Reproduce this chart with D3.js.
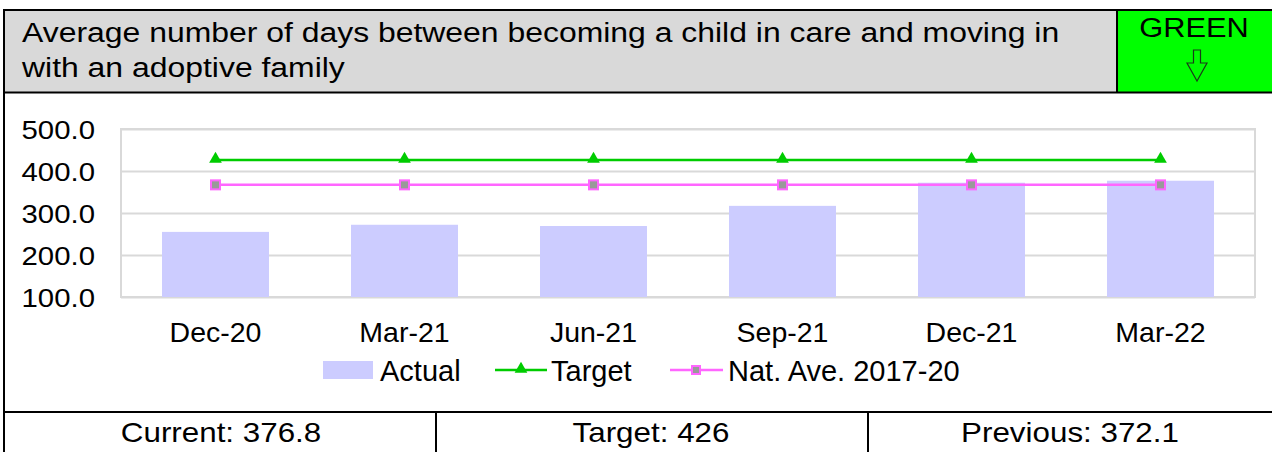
<!DOCTYPE html>
<html>
<head>
<meta charset="utf-8">
<script src="https://cdn.jsdelivr.net/npm/d3@7"></script>
<style>
  body { margin: 0; background: #fff; }
  text { font-family: "Liberation Sans", Arial, sans-serif; fill: #000; }
</style>
</head>
<body>
<div class="svg-container"></div>
<script>
// Data
var categories = ["Dec-20", "Mar-21", "Jun-21", "Sep-21", "Dec-21", "Mar-22"];
var actual = [255, 272, 269, 317, 372.1, 376.8];
var target = [426, 426, 426, 426, 426, 426];
var natAve = [367, 367, 367, 367, 367, 367];
var yTicks = [100, 200, 300, 400, 500];
var titleLines = ["Average number of days between becoming a child in care and moving in",
                  "with an adoptive family"];
var ragStatus = "GREEN";

var W = 1272, H = 452;
var plot = {left: 121, right: 1255, top: 129, bottom: 297};

var svg = d3.select(".svg-container").append("svg")
    .attr("width", W)
    .attr("height", H);

// Header
svg.append("rect")
    .attr("x", 4).attr("y", 9).attr("width", W).attr("height", 83)
    .attr("fill", "#d9d9d9");
svg.append("rect")
    .attr("x", 1117).attr("y", 9).attr("width", W - 1117).attr("height", 83)
    .attr("fill", "#00ff00");

svg.append("text")
    .attr("transform", "translate(22,42) scale(1.14,1)")
    .style("font-size", "28px")
    .selectAll("tspan")
    .data(titleLines)
    .enter()
    .append("tspan")
        .attr("x", 0)
        .attr("dy", function(d, i) { return i == 0 ? 0 : 35; })
        .text(function(d) { return d; });

svg.append("text")
    .attr("transform", "translate(1194,37) scale(1.1,1)")
    .attr("text-anchor", "middle")
    .style("font-size", "28px")
    .text(ragStatus);

// down arrow (outline)
svg.append("path")
    .attr("d", "M1193.5,50 L1200.5,50 L1200.5,63 L1207,63 L1197,81 L1187,63 L1193.5,63 Z")
    .attr("fill", "none")
    .attr("stroke", "#1a3a1a")
    .attr("stroke-width", 1.2);

// Frame lines
var frame = svg.append("g").attr("stroke", "#000").attr("stroke-width", 2);
frame.append("line").attr("x1", 4).attr("y1", 10).attr("x2", W).attr("y2", 10);
frame.append("line").attr("x1", 4).attr("y1", 9).attr("x2", 4).attr("y2", H);
frame.append("line").attr("x1", 4).attr("y1", 92.5).attr("x2", W).attr("y2", 92.5);
frame.append("line").attr("x1", 1117).attr("y1", 9).attr("x2", 1117).attr("y2", 92);
frame.append("line").attr("x1", 4).attr("y1", 412).attr("x2", W).attr("y2", 412);
frame.append("line").attr("x1", 436).attr("y1", 412).attr("x2", 436).attr("y2", H);
frame.append("line").attr("x1", 868).attr("y1", 412).attr("x2", 868).attr("y2", H);

// Scales
var xScale = d3.scaleBand()
    .domain(categories)
    .range([plot.left, plot.right])
    .paddingInner(0.434)
    .paddingOuter(0.217);
var yScale = d3.scaleLinear()
    .domain([100, 500])
    .range([plot.bottom, plot.top]);

function cx(d) { return xScale(d) + xScale.bandwidth() / 2; }

// Gridlines
var grid = svg.append("g")
    .attr("transform", "translate(" + plot.left + ",0)")
    .call(d3.axisLeft(yScale).tickValues(yTicks).tickSize(-(plot.right - plot.left)).tickFormat(""));
grid.select(".domain").remove();
grid.selectAll(".tick line").attr("stroke", "#d9d9d9").attr("stroke-width", 2);

svg.append("rect")
    .attr("x", plot.left).attr("y", plot.top)
    .attr("width", plot.right - plot.left).attr("height", plot.bottom - plot.top)
    .attr("fill", "none").attr("stroke", "#d9d9d9").attr("stroke-width", 2);

// Y axis labels
var yaxis = svg.append("g")
    .attr("transform", "translate(" + (plot.left - 26) + ",0)")
    .call(d3.axisLeft(yScale).tickValues(yTicks).tickSize(0).tickPadding(0).tickFormat(d3.format(".1f")));
yaxis.select(".domain").remove();
yaxis.selectAll("text")
    .style("font-size", "26px")
    .style("font-family", "'Liberation Sans', Arial, sans-serif")
    .attr("fill", "#000")
    .attr("x", 0)
    .attr("dy", "0.36em")
    .attr("transform", "scale(1.13,1)");

// X axis labels
var xaxis = svg.append("g")
    .attr("transform", "translate(0," + plot.bottom + ")")
    .call(d3.axisBottom(xScale).tickSize(0).tickPadding(0));
xaxis.select(".domain").remove();
xaxis.selectAll("text")
    .style("font-size", "28.5px")
    .style("font-family", "'Liberation Sans', Arial, sans-serif")
    .attr("fill", "#000")
    .attr("y", 45)
    .attr("dy", 0);

// Bars
svg.append("g")
    .selectAll("rect")
    .data(categories)
    .enter()
    .append("rect")
        .attr("x", function(d) { return xScale(d); })
        .attr("y", function(d, i) { return yScale(actual[i]); })
        .attr("width", xScale.bandwidth())
        .attr("height", function(d, i) { return plot.bottom - yScale(actual[i]); })
        .attr("fill", "#ccccff");

// Lines
var line = function(vals) {
    return d3.line()
        .x(function(d) { return cx(d); })
        .y(function(d, i) { return yScale(vals[i]); })(categories);
};

svg.append("path")
    .attr("d", line(target))
    .style("fill", "none")
    .style("stroke", "#00cc00")
    .style("stroke-width", 2.5);

svg.append("path")
    .attr("d", line(natAve))
    .style("fill", "none")
    .style("stroke", "#ff66ff")
    .style("stroke-width", 2.5);

var tri = d3.symbol().type(d3.symbolTriangle).size(70);
svg.append("g")
    .selectAll("path")
    .data(categories)
    .enter()
    .append("path")
        .attr("d", tri)
        .attr("transform", function(d, i) { return "translate(" + cx(d) + "," + (yScale(target[i]) - 1) + ")"; })
        .attr("fill", "#00cc00");

svg.append("g")
    .selectAll("rect")
    .data(categories)
    .enter()
    .append("rect")
        .attr("x", function(d) { return cx(d) - 4.5; })
        .attr("y", function(d, i) { return yScale(natAve[i]) - 4.5; })
        .attr("width", 9).attr("height", 9)
        .attr("fill", "#999999")
        .attr("stroke", "#ff66ff")
        .attr("stroke-width", 2);

// Legend
var lg = svg.append("g");
var lgY = 370;
lg.append("rect").attr("x", 323).attr("y", lgY - 9).attr("width", 50).attr("height", 18).attr("fill", "#ccccff");
lg.append("text").attr("x", 380).attr("y", lgY + 11).style("font-size", "29px").text("Actual");

lg.append("line").attr("x1", 495).attr("x2", 547).attr("y1", lgY).attr("y2", lgY)
    .attr("stroke", "#00cc00").attr("stroke-width", 2.5);
lg.append("path").attr("d", tri).attr("transform", "translate(521," + (lgY - 1) + ")").attr("fill", "#00cc00");
lg.append("text").attr("x", 551).attr("y", lgY + 11).style("font-size", "29px").text("Target");

lg.append("line").attr("x1", 670).attr("x2", 723).attr("y1", lgY).attr("y2", lgY)
    .attr("stroke", "#ff66ff").attr("stroke-width", 2.5);
lg.append("rect").attr("x", 692).attr("y", lgY - 4).attr("width", 8).attr("height", 8)
    .attr("fill", "#999999").attr("stroke", "#ff66ff").attr("stroke-width", 2);
lg.append("text").attr("x", 728).attr("y", lgY + 11).style("font-size", "29px").text("Nat. Ave. 2017-20");

// Footer
var footer = ["Current: " + actual[actual.length - 1],
              "Target: " + target[target.length - 1],
              "Previous: " + actual[actual.length - 2]];
var footerX = [221, 651, 1070];
svg.append("g")
    .selectAll("text")
    .data(footer)
    .enter()
    .append("text")
        .attr("transform", function(d, i) { return "translate(" + footerX[i] + ",442) scale(1.12,1)"; })
        .attr("text-anchor", "middle")
        .style("font-size", "28px")
        .text(function(d) { return d; });
</script>
</body>
</html>
